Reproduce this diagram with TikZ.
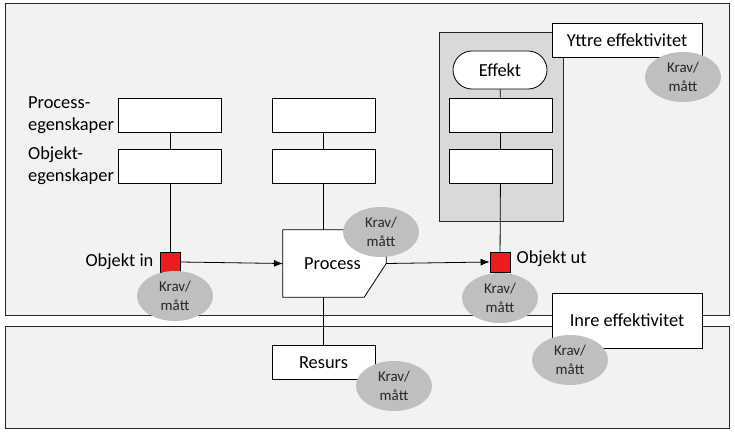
\documentclass[tikz,border=0pt]{standalone}
\usepackage{fontspec}
\setmainfont{Carlito}
\usepackage{xcolor}
\usepackage{tikz}
\usetikzlibrary{calc,arrows.meta,shapes.geometric}
\definecolor{panelbg}{HTML}{F2F2F2}
\definecolor{edge}{HTML}{262626}
\definecolor{contbg}{HTML}{D9D9D9}
\definecolor{kravbg}{HTML}{BFBFBF}
\definecolor{kravtext}{HTML}{262626}
\definecolor{objred}{HTML}{EE1C1C}
\newcommand{\labfont}{\fontsize{18.4}{22}\selectfont}
\newcommand{\kravfont}{\fontsize{15}{19.5}\selectfont}
\tikzset{
  panel/.style={draw=edge, fill=panelbg, line width=0.9pt},
  cont/.style={draw=edge, fill=contbg, line width=0.8pt},
  box/.style={draw=black, fill=white, line width=0.8pt, minimum width=103pt, minimum height=34pt, inner sep=0pt, font=\labfont},
  effbox/.style={box, minimum width=150pt},
  pill/.style={box, minimum width=94pt, minimum height=38pt, rounded corners=19pt},
  objbox/.style={draw=black, fill=objred, line width=0.8pt, minimum size=20pt, inner sep=0pt},
  krav/.style={ellipse, fill=kravbg, text=kravtext, minimum width=76pt, minimum height=50pt, inner sep=0pt, align=center, font=\kravfont},
  lab/.style={font=\labfont, align=left, inner sep=4pt},
  conn/.style={draw=black, line width=0.8pt},
  flow/.style={conn, -{Latex[length=9pt,width=7pt]}},
}

\begin{document}
\begin{tikzpicture}[x=1pt,y=-1pt]
  \useasboundingbox (0,0) rectangle (735,436);
  \draw[panel] (5,3) rectangle (729,315);
  \draw[panel] (5,326) rectangle (729,428);
  \draw[cont] (439,32) rectangle (563,221);

  \node[box] (pe1) at (170,115) {};
  \node[box] (oe1) at (170,166) {};
  \node[box] (pe2) at (323.5,115) {};
  \node[box] (oe2) at (323.5,166) {};
  \node[box] (ee1) at (500.5,115) {};
  \node[box] (ee2) at (500.5,166) {};
  \node[pill] (effekt) at (500,70) {Effekt};
  \node[box] (resurs) at (323.5,362.5) {Resurs};

  \node[objbox] (objin) at (170,262) {};
  \node[objbox] (objut) at (500,262) {};
  \node[minimum width=103pt, minimum height=67pt, inner sep=0pt] (proc) at (334.5,263.5) {};

  \draw[conn] (pe1) -- (oe1);
  \draw[conn] (oe1) -- (objin);
  \draw[conn] (pe2) -- (oe2);
  \draw[conn] (oe2.south) -- (oe2.south |- proc.north);
  \draw[conn] (resurs.north) -- (resurs.north |- proc.south);
  \draw[conn] (effekt) -- (ee1);
  \draw[conn] (ee1) -- (ee2);
  \draw[conn] (ee2) -- (objut);

  \draw[conn, fill=white] (proc.north west) -- (proc.north east) -- (proc.east)
    -- ($(proc.south east)+(-22,0)$) -- (proc.south west) -- cycle;
  \node[font=\labfont] at ($(proc.center)+(-2,0)$) {Process};
  \draw[flow] (objin.east) -- (proc.west);
  \draw[flow] (proc.east) -- (objut.west);

  \node[lab, anchor=east] at (pe1.west) {Process-\\egenskaper};
  \node[lab, anchor=east] at (oe1.west) {Objekt-\\egenskaper};
  \node[lab, anchor=east, inner sep=6pt] at (objin.west) {Objekt in};
  \node[lab, anchor=west, inner sep=6pt] at ($(objut.east)+(0,-3)$) {Objekt ut};

  \node[effbox] (yttre) at (627,40) {Yttre effektivitet};
  \node[effbox, minimum height=55pt] (inre) at (627,320.5) {Inre effektivitet};

  \node[krav] (k1) at (175,296) {Krav/\\mått};
  \node[krav] (k2) at (381,232) {Krav/\\mått};
  \node[krav] (k3) at (500,298) {Krav/\\mått};
  \node[krav] (k4) at (683,77) {Krav/\\mått};
  \node[krav] (k5) at (570,360) {Krav/\\mått};
  \node[krav] (k6) at (394,386) {Krav/\\mått};
\end{tikzpicture}
\end{document}
